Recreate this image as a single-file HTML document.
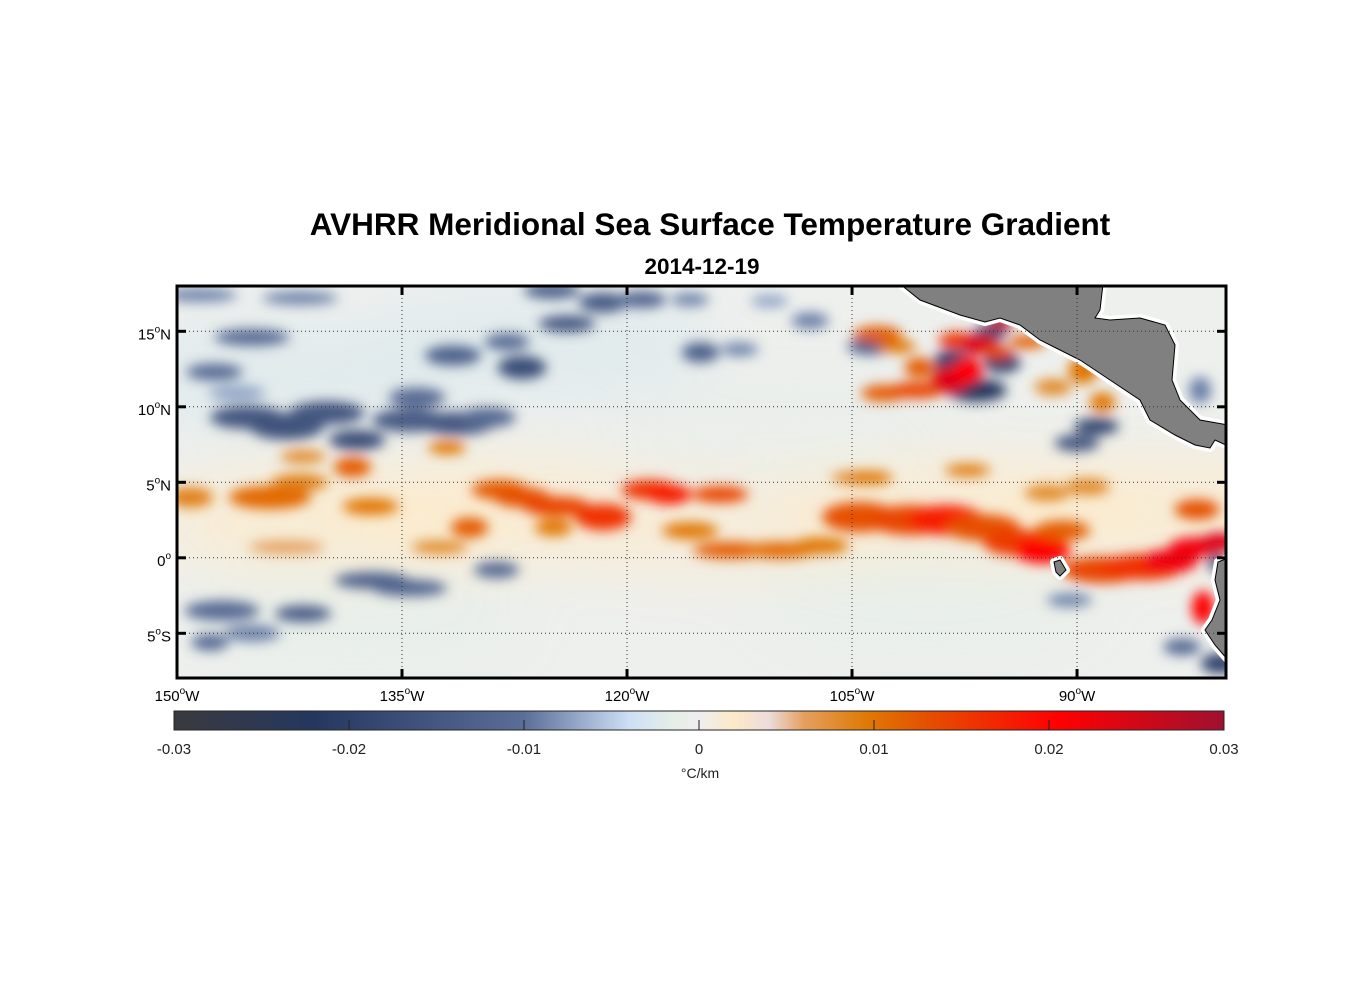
<!DOCTYPE html>
<html><head><meta charset="utf-8"><style>
html,body{margin:0;padding:0;background:#fff;}
svg{display:block;font-family:"Liberation Sans",Arial,sans-serif;}
</style></head><body>
<svg id="chart" width="1356" height="1000" viewBox="0 0 1356 1000" xmlns="http://www.w3.org/2000/svg">
<defs>
  <clipPath id="mapclip"><rect x="177" y="286" width="1049" height="392"/></clipPath>
  <filter id="blur" x="-50%" y="-50%" width="200%" height="200%"><feGaussianBlur stdDeviation="6"/></filter>
  <filter id="blur2" x="-50%" y="-50%" width="200%" height="200%"><feGaussianBlur stdDeviation="30"/></filter>
  <linearGradient id="cbgrad" x1="0" x2="1" y1="0" y2="0"></linearGradient>
</defs>
<text x="710" y="235" text-anchor="middle" font-size="31.5" font-weight="bold">AVHRR Meridional Sea Surface Temperature Gradient</text>
<text x="702" y="274" text-anchor="middle" font-size="22.5" font-weight="bold">2014-12-19</text>
<g id="map">
  <rect x="177" y="286" width="1049" height="392" fill="#eef0ee"/>
  <g id="wash" clip-path="url(#mapclip)" filter="url(#blur2)"></g>
  <g id="blobs" clip-path="url(#mapclip)" filter="url(#blur)"></g>
  <g id="land" clip-path="url(#mapclip)"></g>
  <g id="grid"></g>
  <rect x="177" y="286" width="1049" height="392" fill="none" stroke="#000" stroke-width="3"/>
  <g id="ticks"></g>
</g>
<g id="colorbar"></g>
</svg>
<script>
// ---- data ----
const lonTicks = [-150, -135, -120, -105, -90];
const lonTickLabels = ["150", "135", "120", "105", "90"];
const latTicks = [15, 10, 5, 0, -5];
const latTickLabels = ["15", "10", "5", "0", "5"];
const latHemis = ["N", "N", "N", "", "S"];
const cbTicks = [-0.03, -0.02, -0.01, 0, 0.01, 0.02, 0.03];
const cbTickLabels = ["-0.03", "-0.02", "-0.01", "0", "0.01", "0.02", "0.03"];
const cmapVals = [-0.03, -0.022, -0.01, -0.004, -0.0015, 0, 0.002, 0.004, 0.006, 0.0095, 0.013, 0.0205, 0.03];
const cmapCols = ["#3a3a3e", "#25375f", "#5a6e98", "#cddff5", "#e5eee8", "#eeeeee", "#fde9c8", "#ecdcdc", "#e4a060", "#df7a05", "#e55000", "#ff0000", "#a01030"];
// broad background tendencies
const washLon = [-140,-128,-113,-98,-84,-143,-126,-100,-138,-110];
const washLat = [2.5,3,2,3,3,12,14,-3,-4,9];
const washVal = [0.002,0.002,0.0015,0.002,0.002,-0.0025,-0.0025,-0.0015,-0.0015,-0.001];
// gradient features (lon, lat, value, radius lon deg, radius lat deg)
const blobLon = [
 -148.5,-141.8,-145,-147.5,-146,-124,-125,-121.6,-131.6,-127,-134,-128,-145.3,-142.7,-140,-138,-134.5,-131.3,-129.3,-137,-134.5,-128.7,-147,-141.6,-147.8,-145,
 -119,-115.8,-115.1,-112.5,-107.8,-110.5,-103.8,-98.3,-96.7,-95.8,-95,-88.7,-90,-80.5,-83,-81.8,-80.7,-90.5,
 -149.1,-143.8,-141.8,-138.3,-141.6,-137.1,-128.5,-127,-124.7,-121.6,-130.5,-124.9,-132.5,-142.7,-132,
 -118.5,-117.2,-113.8,-115.8,-113.1,-109.8,-107.1,-104.5,
 -103.3,-102,-102.9,-100.7,-100.5,-98,-96.5,-98.5,-97.3,-95.1,-95.3,-93.3,-89.6,-88.3,-91.6,
 -104.5,-101.1,-98.7,-96.3,-94,-92.3,-91,-88.3,-85.6,-83.8,-82,-80.5,-82,-81.6,-92,-89.3,-97.3,-103.8];
const blobLat = [
 17.4,17.2,14.6,12.3,10.9,15.5,17.7,16.9,13.4,12.6,10.6,14.3,9.3,8.7,9.6,7.8,9.1,8.9,9.3,-1.5,-2,-0.8,-3.5,-3.7,-5.6,-5,
 17.1,17.1,13.6,13.8,15.7,17,14,13,11.1,14.9,12.9,8.7,7.6,-7,-5.9,11.1,-0.3,-2.8,
 4,4,5,6,6.7,3.4,4.5,4,3.4,2.7,2,2,0.7,0.7,7.3,
 4.5,4.2,4.2,1.8,0.5,0.5,0.8,5.3,
 14.8,14,10.9,11.1,12.6,14.4,14.1,11.8,12.4,15.6,13.6,14.3,12.4,10.3,11.3,
 2.7,2.5,2.5,2,1,0.5,1.8,-0.8,-0.6,-0.2,0.7,1,3.2,-3.3,4.3,4.7,5.8,5.3];
const blobVal = [
 -0.009,-0.009,-0.011,-0.011,-0.007,-0.015,-0.013,-0.014,-0.013,-0.017,-0.011,-0.011,-0.015,-0.016,-0.015,-0.017,-0.014,-0.015,-0.011,-0.013,-0.012,-0.011,-0.011,-0.014,-0.011,-0.009,
 -0.012,-0.009,-0.013,-0.009,-0.009,-0.007,-0.013,-0.02,-0.022,-0.018,-0.02,-0.019,-0.015,-0.02,-0.011,-0.009,-0.011,-0.009,
 0.009,0.011,0.009,0.012,0.008,0.01,0.012,0.013,0.014,0.016,0.012,0.01,0.008,0.006,0.01,
 0.016,0.018,0.014,0.01,0.012,0.011,0.01,0.008,
 0.012,0.01,0.012,0.014,0.012,0.016,0.024,0.024,0.02,0.026,0.014,0.012,0.01,0.01,0.008,
 0.013,0.014,0.018,0.013,0.015,0.02,0.012,0.014,0.016,0.022,0.022,0.024,0.013,0.02,0.008,0.008,0.009,0.01];
const blobRx = [
 2,2,2,1.5,1.5,1.5,1.5,1.3,1.5,1.3,1.5,1.2,2,2,2,1.5,2,2,1.5,2,2,1.2,2,1.5,1,1.5,
 1.3,1,1,1,1,1,1.2,1,1.6,0.9,1,1.2,1.2,1,1,0.6,0.5,1.2,
 1.2,2.2,1.5,1,1.2,1.5,1.5,1.5,1.8,1.5,1,1,1.5,2,1,
 1.5,1.2,1.5,1.5,2,2,1.5,1.5,
 1.3,1,1.2,1.5,0.8,1,1,1,0.8,0.7,0.8,1,0.8,0.7,1,
 2,2.2,2,2,1.8,1.5,1.5,2.2,2.2,1.5,1.5,1,1.2,0.6,1.2,1.2,1.2,1.2];
const blobRy = [
 0.4,0.4,0.5,0.5,0.5,0.5,0.5,0.6,0.6,0.7,0.6,0.5,0.7,0.8,0.7,0.6,0.7,0.7,0.6,0.5,0.5,0.5,0.6,0.5,0.5,0.5,
 0.5,0.4,0.6,0.4,0.5,0.4,0.5,0.7,0.7,0.5,0.6,0.5,0.5,0.6,0.5,0.8,0.6,0.4,
 0.6,0.7,0.5,0.6,0.4,0.5,0.6,0.6,0.6,0.8,0.6,0.5,0.4,0.4,0.4,
 0.6,0.6,0.5,0.5,0.5,0.5,0.5,0.4,
 0.5,0.4,0.5,0.5,0.6,0.5,0.6,0.8,0.8,0.4,0.4,0.4,0.8,0.6,0.5,
 0.9,0.9,0.9,0.8,0.8,0.8,0.6,0.8,0.8,0.7,0.6,0.6,0.6,1,0.5,0.5,0.4,0.4];

// ---- axes ----
const X0=177, X1=1226, Y0=286, Y1=678, LON0=-150, LON1=-80.07, LAT0=18, LAT1=-7.96;
const xs = lon => X0 + (lon-LON0)/(LON1-LON0)*(X1-X0);
const ys = lat => Y0 + (lat-LAT0)/(LAT1-LAT0)*(Y1-Y0);
const CB0=174, CB1=1224, CBY=711, CBH=19;
const cbx = v => CB0 + (v-(-0.03))/0.06*(CB1-CB0);
const NS="http://www.w3.org/2000/svg";
function mk(tag, attrs, parent){const e=document.createElementNS(NS,tag);for(const k in attrs)e.setAttribute(k,attrs[k]);parent.appendChild(e);return e;}
function hex(h){return [parseInt(h.slice(1,3),16),parseInt(h.slice(3,5),16),parseInt(h.slice(5,7),16)];}
function cmap(v){
  if(v<=cmapVals[0])return cmapCols[0];
  for(let i=1;i<cmapVals.length;i++){ if(v<=cmapVals[i]){const t=(v-cmapVals[i-1])/(cmapVals[i]-cmapVals[i-1]);const a=hex(cmapCols[i-1]),b=hex(cmapCols[i]);return "rgb("+a.map((c,j)=>Math.round(c+(b[j]-c)*t)).join(",")+")";}}
  return cmapCols[cmapCols.length-1];
}
const wg=document.getElementById('wash');
for(let i=0;i<washLon.length;i++){
  const e=mk('ellipse',{cx:xs(washLon[i]),cy:ys(washLat[i]),rx:12*15,ry:3.5*15.1,fill:cmap(washVal[i]),opacity:0.7},wg);
  
  
}
const bg=document.getElementById('blobs');
for(let i=0;i<blobLon.length;i++){
  const e=mk('ellipse',{cx:xs(blobLon[i]),cy:ys(blobLat[i]),rx:blobRx[i]*15*1.25,ry:blobRy[i]*15.1*1.1,fill:cmap(blobVal[i])},bg);
  
  
}
// land
const lg=document.getElementById('land');
const ca="900,284 1103,284 1100,310 1095,318 1110,320 1140,318 1165,325 1175,345 1172,380 1180,400 1200,420 1228,425 1228,446 1215,440 1210,448 1195,445 1175,435 1150,420 1140,400 1110,380 1080,360 1060,350 1040,340 1020,325 1000,318 985,322 960,315 920,300";
const sa="1228,558 1218,562 1215,580 1220,600 1212,620 1205,630 1215,645 1228,660";
const gal="1054,562 1060,560 1066,570 1060,576 1056,572";
[ca,sa,gal].forEach((p,i)=>{
  const h=mk('polygon',{points:p,fill:'none',stroke:'#fff','stroke-width':8,'stroke-linejoin':'round'},lg);
  
  
});
[ca,sa,gal].forEach((p,i)=>{
  const l=mk('polygon',{points:p,fill:'#808080',stroke:'#000','stroke-width':1},lg);
  
  
});
// grid
const gg=document.getElementById('grid'), tg=document.getElementById('ticks');
lonTicks.forEach((lon,i)=>{
  const x=xs(lon);
  if(i>0){const g=mk('line',{x1:x,x2:x,y1:Y0,y2:Y1,stroke:'#333','stroke-width':1,'stroke-dasharray':'1,3'},gg);
  
  }
  [[Y0,Y0+9],[Y1-9,Y1]].forEach(([a,b])=>{const t=mk('line',{x1:x,x2:x,y1:a,y2:b,stroke:'#000','stroke-width':3},tg);
  
  });
  const tx=mk('text',{x:x,y:701,'text-anchor':'middle','font-size':15},tg);
  
  
  tx.innerHTML=lonTickLabels[i]+'<tspan font-size="10" dy="-7">o</tspan><tspan dy="7">W</tspan>';
});
latTicks.forEach((lat,i)=>{
  const y=ys(lat);
  const g=mk('line',{x1:X0,x2:X1,y1:y,y2:y,stroke:'#333','stroke-width':1,'stroke-dasharray':'1,3'},gg);
  
  
  [[X0,X0+9],[X1-9,X1]].forEach(([a,b])=>{const t=mk('line',{x1:a,x2:b,y1:y,y2:y,stroke:'#000','stroke-width':3},tg);
  
  });
  const tx=mk('text',{x:171,y:y+8,'text-anchor':'end','font-size':15},tg);
  
  
  tx.innerHTML=latTickLabels[i]+'<tspan font-size="10" dy="-7">o</tspan>'+(latHemis[i]?'<tspan dy="7">'+latHemis[i]+'</tspan>':'');
});
// colorbar
const grad=document.getElementById('cbgrad');
cmapVals.forEach((v,i)=>{mk('stop',{offset:(v+0.03)/0.06,'stop-color':cmapCols[i]},grad);});
const cb=document.getElementById('colorbar');
const r=mk('rect',{x:CB0,y:CBY,width:CB1-CB0,height:CBH,fill:'url(#cbgrad)',stroke:'#262626','stroke-width':1},cb);


cbTicks.forEach((v,i)=>{
  const x=cbx(v);
  if(i>0&&i<cbTicks.length-1){const t=mk('line',{x1:x,x2:x,y1:CBY+CBH-10,y2:CBY+CBH,stroke:'#222','stroke-width':1},cb);
  
  }
  const tx=mk('text',{x:x,y:754,'text-anchor':'middle','font-size':15,fill:'#222'},cb);
  
  
  tx.textContent=cbTickLabels[i];
});
const ul=mk('text',{x:700,y:778,'text-anchor':'middle','font-size':14,fill:'#222'},cb);


ul.textContent='°C/km';
</script>
</body></html>
